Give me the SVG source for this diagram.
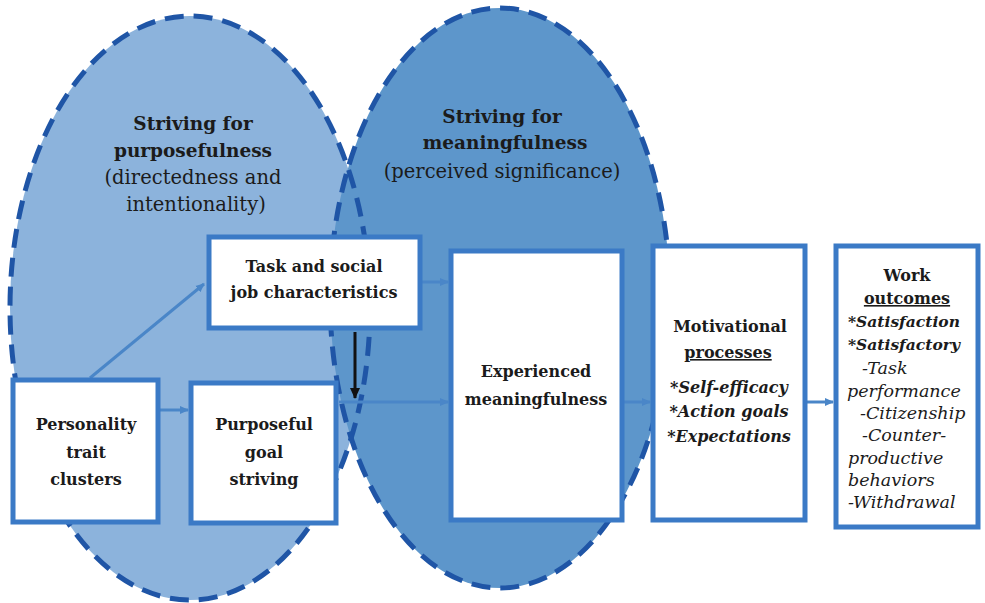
<svg xmlns="http://www.w3.org/2000/svg" width="985" height="603" viewBox="0 0 985 603">
  <defs>
    <style>
      .zone-left { fill: #8cb3dc; }
      .zone-right { fill: #5d96cb; }
      .zone-edge { fill: none; stroke: #1f55a6; stroke-width: 5; stroke-dasharray: 19 10; }
      .box { fill: #ffffff; stroke: #3b7ac6; stroke-width: 5; }
      .link { fill: none; stroke: #4a86c8; stroke-width: 3; }
      .link-dark { fill: none; stroke: #111111; stroke-width: 3; }
      text { font-family: "DejaVu Serif", "Liberation Serif", serif; fill: #1b1b1b; text-anchor: middle; }
      .b { font-weight: bold; }
      .bi { font-weight: bold; font-style: italic; }
      .i { font-style: italic; }
      .left { text-anchor: start; }
      .zb { font-size: 18.5px; }
      .zr { font-size: 19.5px; }
      .t16 { font-size: 16px; }
      .t15 { font-size: 15.5px; }
      .t17 { font-size: 17.5px; }
    </style>
    <marker id="arrow-blue" markerWidth="10" markerHeight="10" refX="8" refY="5" orient="auto" markerUnits="userSpaceOnUse">
      <path d="M0,1 L9,5 L0,9 Z" fill="#4a86c8"/>
    </marker>
    <marker id="arrow-black" markerWidth="12" markerHeight="12" refX="10" refY="6" orient="auto" markerUnits="userSpaceOnUse">
      <path d="M0,1 L11,6 L0,11 Z" fill="#111111"/>
    </marker>
  </defs>

  <rect width="985" height="603" fill="#ffffff"/>

  <!-- two overlapping striving zones -->
  <g id="zone-purposefulness">
    <ellipse class="zone-left" cx="190" cy="308" rx="180" ry="292"/>
  </g>
  <g id="zone-meaningfulness">
    <ellipse class="zone-right" cx="500" cy="298" rx="170" ry="290"/>
  </g>
  <g id="zone-edges">
    <ellipse class="zone-edge" cx="190" cy="308" rx="180" ry="292"/>
    <ellipse class="zone-edge" cx="500" cy="298" rx="170" ry="290"/>
  </g>

  <g id="zone-labels">
    <text class="b zb" x="193" y="130">Striving for</text>
    <text class="b zb" x="193" y="157">purposefulness</text>
    <text class="zr" x="193" y="184">(directedness and</text>
    <text class="zr" x="196" y="211">intentionality)</text>
    <text class="b zb" x="502" y="123">Striving for</text>
    <text class="b zb" x="505" y="149">meaningfulness</text>
    <text class="zr" x="502" y="178">(perceived significance)</text>
  </g>

  <!-- connectors -->
  <g id="connectors">
    <line class="link" x1="90" y1="378" x2="204" y2="284" marker-end="url(#arrow-blue)"/>
    <line class="link" x1="160" y1="410" x2="188" y2="410" marker-end="url(#arrow-blue)"/>
    <line class="link" x1="422" y1="282" x2="448" y2="282" marker-end="url(#arrow-blue)"/>
    <line class="link" x1="339" y1="402" x2="448" y2="402" marker-end="url(#arrow-blue)"/>
    <line class="link" x1="624" y1="402" x2="650" y2="402" marker-end="url(#arrow-blue)"/>
    <line class="link" x1="807" y1="402" x2="833" y2="402" stroke-width="4" marker-end="url(#arrow-blue)"/>
    <line class="link-dark" x1="355" y1="332" x2="355" y2="398" marker-end="url(#arrow-black)"/>
  </g>

  <g id="node-task">
    <rect class="box" x="209" y="237" width="211" height="91"/>
    <text class="b t16" x="314" y="272">Task and social</text>
    <text class="b t16" x="314" y="298">job characteristics</text>
  </g>

  <g id="node-personality">
    <rect class="box" x="13" y="380" width="145" height="142"/>
    <text class="b t16" x="86" y="430">Personality</text>
    <text class="b t16" x="86" y="458">trait</text>
    <text class="b t16" x="86" y="485">clusters</text>
  </g>

  <g id="node-purposeful">
    <rect class="box" x="191" y="383" width="145" height="140"/>
    <text class="b t16" x="264" y="430">Purposeful</text>
    <text class="b t16" x="264" y="458">goal</text>
    <text class="b t16" x="264" y="485">striving</text>
  </g>

  <g id="node-experienced">
    <rect class="box" x="451" y="251" width="171" height="269"/>
    <text class="b t16" x="536" y="377">Experienced</text>
    <text class="b t16" x="536" y="405">meaningfulness</text>
  </g>

  <g id="node-motivational">
    <rect class="box" x="653" y="246" width="152" height="274"/>
    <text class="b t16" x="730" y="332">Motivational</text>
    <text class="b t16" x="728" y="358" text-decoration="underline">processes</text>
    <text class="bi t16" x="729" y="393">*Self-efficacy</text>
    <text class="bi t16" x="729" y="417">*Action goals</text>
    <text class="bi t16" x="729" y="442">*Expectations</text>
  </g>

  <g id="node-outcomes">
    <rect class="box" x="836" y="246" width="142" height="281"/>
    <text class="b t16" x="907" y="281">Work</text>
    <text class="b t16" x="907" y="304" text-decoration="underline">outcomes</text>
    <text class="bi t15 left" x="848" y="327">*Satisfaction</text>
    <text class="bi t15 left" x="848" y="350">*Satisfactory</text>
    <text class="i t17 left" x="862" y="374">-Task</text>
    <text class="i t17 left" x="847" y="397">performance</text>
    <text class="i t17 left" x="860" y="419">-Citizenship</text>
    <text class="i t17 left" x="862" y="441">-Counter-</text>
    <text class="i t17 left" x="848" y="464">productive</text>
    <text class="i t17 left" x="848" y="486">behaviors</text>
    <text class="i t17 left" x="848" y="508">-Withdrawal</text>
  </g>
</svg>
